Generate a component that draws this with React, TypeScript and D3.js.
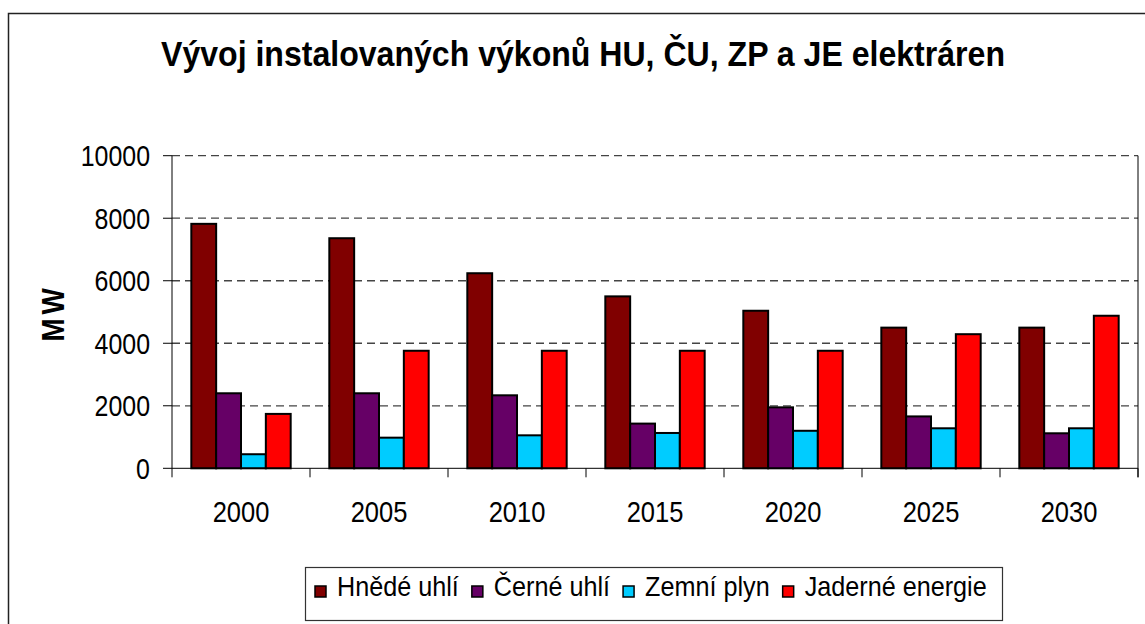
import React, { useEffect, useRef } from 'react';
import * as d3 from 'd3';

const years = ['2000', '2005', '2010', '2015', '2020', '2025', '2030'];
const seriesNames = ['Hnědé uhlí', 'Černé uhlí', 'Zemní plyn', 'Jaderné energie'];
const seriesColors = ['#800000', '#660066', '#00CCFF', '#FF0000'];
const hnedeUhli = [7820, 7360, 6240, 5500, 5040, 4500, 4500];
const cerneUhli = [2400, 2400, 2335, 1430, 1950, 1660, 1120];
const zemniPlyn = [450, 980, 1055, 1130, 1200, 1280, 1280];
const jaderneEnergie = [1740, 3760, 3760, 3760, 3760, 4290, 4880];
const yTicks = [0, 2000, 4000, 6000, 8000, 10000];

const FONT = '"Liberation Sans", Arial, sans-serif';

export default function App() {
  const svgRef = useRef<SVGSVGElement>(null);

  useEffect(() => {
    const svg = d3.select(svgRef.current);
    svg.selectAll('*').remove();

    const left = 172;
    const right = 1138;
    const top = 155.7;
    const bottom = 468.3;

    const seriesValues = [hnedeUhli, cerneUhli, zemniPlyn, jaderneEnergie];

    const y = d3.scaleLinear().domain([0, 10000]).range([bottom, top]);
    const x = d3.scaleBand().domain(years).range([left, right]).paddingInner(0.28).paddingOuter(0.14);
    const xs = d3.scaleBand().domain(seriesNames).range([0, x.bandwidth()]);

    // outer chart border
    svg.append('rect')
      .attr('x', 8.5).attr('y', 13.5)
      .attr('width', 1300).attr('height', 800)
      .attr('fill', '#fff').attr('stroke', '#222').attr('stroke-width', 1.5);

    // title
    svg.append('text')
      .attr('x', 583).attr('y', 66)
      .attr('text-anchor', 'middle')
      .attr('font-family', FONT).attr('font-weight', 'bold').attr('font-size', 35)
      .attr('textLength', 844).attr('lengthAdjust', 'spacingAndGlyphs')
      .text('Vývoj instalovaných výkonů HU, ČU, ZP a JE elektráren');

    // gridlines
    svg.append('g')
      .selectAll('line')
      .data(yTicks.filter((t) => t > 0))
      .join('line')
      .attr('x1', left).attr('x2', right)
      .attr('y1', (d) => y(d)).attr('y2', (d) => y(d))
      .attr('stroke', '#444').attr('stroke-width', 1.3)
      .attr('stroke-dasharray', '8,5');

    // bars
    const groups = svg.append('g')
      .selectAll('g')
      .data(years)
      .join('g')
      .attr('transform', (d) => `translate(${x(d)},0)`);

    groups.selectAll('rect')
      .data((_, i) => seriesNames.map((s, k) => ({ s, k, v: seriesValues[k][i] })))
      .join('rect')
      .attr('x', (d) => xs(d.s)!)
      .attr('width', xs.bandwidth())
      .attr('y', (d) => y(d.v))
      .attr('height', (d) => y(0) - y(d.v))
      .attr('fill', (d) => seriesColors[d.k])
      .attr('stroke', '#000').attr('stroke-width', 2);

    // axes
    const axis = svg.append('g').attr('stroke', '#000').attr('stroke-width', 1);
    axis.append('line').attr('x1', left).attr('x2', left).attr('y1', top).attr('y2', bottom);
    axis.append('line').attr('x1', right).attr('x2', right).attr('y1', top).attr('y2', bottom + 9);
    axis.append('line').attr('x1', left).attr('x2', right).attr('y1', bottom).attr('y2', bottom);
    axis.selectAll('.ytick')
      .data(yTicks)
      .join('line')
      .attr('class', 'ytick')
      .attr('x1', left - 9).attr('x2', left)
      .attr('y1', (d) => y(d)).attr('y2', (d) => y(d));
    const step = x.step();
    axis.selectAll('.xtick')
      .data(d3.range(years.length + 1))
      .join('line')
      .attr('class', 'xtick')
      .attr('x1', (i) => left + i * step).attr('x2', (i) => left + i * step)
      .attr('y1', bottom).attr('y2', bottom + 9);

    // y tick labels
    svg.append('g')
      .selectAll('text')
      .data(yTicks)
      .join('text')
      .attr('transform', (d) => `translate(150,${y(d) + 10.5}) scale(0.86,1)`)
      .attr('text-anchor', 'end')
      .attr('font-family', FONT).attr('font-size', 29)
      .text((d) => String(d));

    // x labels
    svg.append('g')
      .selectAll('text')
      .data(years)
      .join('text')
      .attr('transform', (d) => `translate(${x(d)! + x.bandwidth() / 2},522) scale(0.88,1)`)
      .attr('text-anchor', 'middle')
      .attr('font-family', FONT).attr('font-size', 29)
      .text((d) => d);

    // y axis title
    svg.append('text')
      .attr('transform', 'translate(64,313) rotate(-90) scale(0.9,1)')
      .attr('text-anchor', 'middle')
      .attr('font-family', FONT).attr('font-weight', 'bold').attr('font-size', 31)
      .attr('letter-spacing', 4)
      .text('MW');

    // legend
    svg.append('rect')
      .attr('x', 305.5).attr('y', 567.5).attr('width', 697).attr('height', 53)
      .attr('fill', '#fff').attr('stroke', '#333').attr('stroke-width', 1.2);

    const legendScale = 0.9;
    let lx = 315;
    seriesNames.forEach((name, k) => {
      svg.append('rect')
        .attr('x', lx).attr('y', 586).attr('width', 11).attr('height', 11)
        .attr('fill', seriesColors[k]).attr('stroke', '#000').attr('stroke-width', 1.5);
      const t = svg.append('text')
        .attr('transform', `translate(${lx + 22},596) scale(${legendScale},1)`)
        .attr('font-family', FONT).attr('font-size', 28)
        .text(name);
      const w = (t.node() as SVGTextElement).getComputedTextLength() * legendScale;
      lx += 22 + w + 13;
    });
  }, []);

  return (
    <div style={{ position: 'absolute', left: 0, top: 0 }}>
      <svg ref={svgRef} width={1145} height={624} style={{ display: 'block', background: '#fff' }} />
    </div>
  );
}
